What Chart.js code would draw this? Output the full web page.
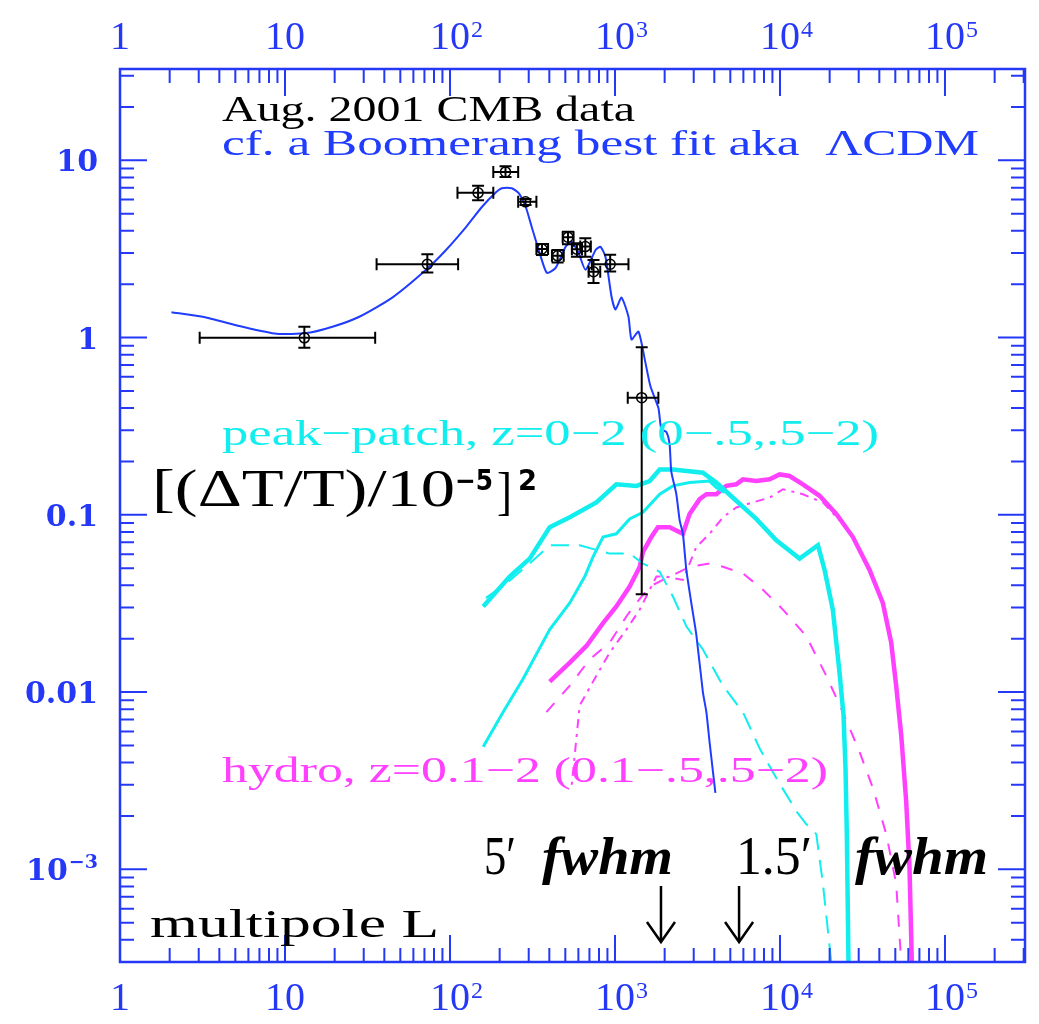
<!DOCTYPE html>
<html><head><meta charset="utf-8">
<script src="https://cdn.jsdelivr.net/npm/chart.js@4/dist/chart.umd.min.js"></script>
<style>html,body{margin:0;padding:0;background:#fff;}</style>
</head><body>
<canvas id="c" width="1039" height="1024"></canvas>
<script>
// ---- CMB data (Aug. 2001) ----
const cmbL     = [13.1, 72.9, 148, 217, 287, 361, 449, 519, 588, 661, 741, 935, 1452];
const cmbLlo   = [3.04, 35.9, 111, 183, 259, 334, 415, 482, 548, 616, 692, 724, 1195];
const cmbLhi   = [35.2, 112, 183, 259, 334, 393, 489, 561, 631, 714, 814, 1207, 1832];
const cmbPow   = [0.996, 2.59, 6.55, 8.6, 5.83, 3.16, 2.89, 3.68, 3.15, 3.26, 2.35, 2.59, 0.458];
const cmbPowLo = [0.875, 2.33, 5.96, 8.05, 5.6, 2.92, 2.65, 3.36, 2.86, 2.86, 2.03, 2.36, 0.0356];
const cmbPowHi = [1.15, 2.95, 7.18, 9.25, 6.05, 3.37, 3.12, 3.95, 3.40, 3.63, 2.74, 2.93, 0.882];

// ---- Boomerang best fit (LCDM) ----
const lcdmL   = [2.05, 3.17, 5.54, 8.88, 13.5, 19.4, 28.2, 44.7, 71.6, 94.6, 125, 156, 190, 206, 237, 261, 288, 313, 345, 386, 437, 502, 546, 602, 663, 763, 817, 876, 953, 1007, 1095, 1207, 1259, 1388, 1528, 1640, 1833, 1910, 2048, 2143, 2193, 2353, 2466, 2580, 2706, 2898, 3112, 3410, 3580, 3741, 3922, 4060];
const lcdmPow = [1.39, 1.31, 1.15, 1.05, 1.06, 1.15, 1.31, 1.68, 2.41, 3.12, 4.2, 5.45, 6.6, 6.96, 6.96, 6.53, 5.45, 4.2, 3.12, 2.32, 2.47, 3.25, 3.46, 3.0, 2.41, 3.12, 3.25, 2.85, 1.70, 1.44, 1.68, 1.31, 0.975, 1.08, 0.724, 0.531, 0.40, 0.304, 0.293, 0.25, 0.176, 0.131, 0.093, 0.078, 0.049, 0.032, 0.021, 0.010, 0.0077, 0.00525, 0.00357, 0.0027];

// ---- peak-patch SZ, z=0-2 (total), z=.5-2 (solid thin), z=0-.5 (dashed) ----
const ppL     = [159, 230, 304, 402, 532, 771, 1019, 1349, 1623, 1866, 2245, 3410, 4113, 5433, 7180, 9500, 13150, 16980, 18640, 20900, 22950, 24270, 24950, 25420, 26010];
const ppPow   = [0.0304, 0.0448, 0.0566, 0.0851, 0.0968, 0.1175, 0.1486, 0.1456, 0.155, 0.180, 0.180, 0.1726, 0.152, 0.120, 0.0948, 0.0718, 0.0566, 0.0673, 0.0488, 0.0292, 0.0129, 0.0074, 0.00374, 0.00158, 0.0003];
const ppHiL   = [159, 210, 277, 402, 532, 656, 736, 846, 1019, 1227, 1478, 1866, 2245, 2832, 3741, 4113, 4617];
const ppHiPow = [0.00492, 0.00771, 0.01186, 0.0225, 0.0318, 0.0448, 0.0579, 0.0749, 0.0781, 0.0948, 0.1033, 0.1306, 0.1456, 0.152, 0.155, 0.1425, 0.1336];
const ppLoL   = [165, 220, 304, 402, 611, 929, 1227, 1478, 1866, 2245, 2706, 3410, 4510, 5960, 7520, 9500, 12560, 14420, 16600, 18200, 20460];
const ppLoPow = [0.034, 0.041, 0.0531, 0.0673, 0.0673, 0.0604, 0.0604, 0.0531, 0.0477, 0.0346, 0.0235, 0.0174, 0.01087, 0.0077, 0.00482, 0.00327, 0.00213, 0.0018, 0.00158, 0.00083, 0.0003];

// ---- hydro SZ, z=0.1-2 (total), 0.1-.5 (dashed), .5-2 (dotted) ----
const hyL     = [402, 532, 671, 846, 1019, 1227, 1413, 1478, 1661, 1820, 2143, 2580, 2832, 3258, 3580, 4113, 4730, 5433, 5960, 7180, 8650, 9950, 11430, 13760, 17380, 21930, 27670, 34910, 42000, 47210, 50600, 54300, 58200, 60950, 62950];
const hyPow   = [0.01146, 0.01466, 0.0182, 0.0245, 0.0304, 0.0394, 0.0509, 0.0618, 0.0749, 0.0851, 0.0851, 0.0781, 0.101, 0.1225, 0.1306, 0.1306, 0.1456, 0.1486, 0.1585, 0.155, 0.1585, 0.169, 0.1656, 0.1486, 0.128, 0.101, 0.0749, 0.0488, 0.0318, 0.019, 0.01087, 0.00571, 0.00242, 0.00103, 0.0003];
const hyLoL   = [384, 532, 703, 929, 1172, 1349, 1623, 1954, 2832, 3741, 4510, 5960, 7880, 10420, 14420, 19070, 24050, 30340, 36540, 44060, 50600, 54300];
const hyLoPow = [0.0077, 0.01087, 0.0153, 0.019, 0.0267, 0.0318, 0.0394, 0.0429, 0.0509, 0.0531, 0.0509, 0.0467, 0.0378, 0.0292, 0.0207, 0.01236, 0.0077, 0.00461, 0.00288, 0.00158, 0.00083, 0.0003];
const hyHiL   = [547, 611, 771, 929, 1172, 1413, 1623, 1782, 2048, 2580, 3112, 3741, 4510, 5433, 6850, 8650, 10420, 13760, 18200, 22950];
const hyHiPow = [0.003, 0.0084, 0.01236, 0.0167, 0.0225, 0.0292, 0.0378, 0.0448, 0.0448, 0.0429, 0.0658, 0.0781, 0.0968, 0.110, 0.1175, 0.125, 0.1394, 0.1306, 0.1175, 0.0929];

// ---- beam markers ----
const beamL = [1900, 5650];

// ---- tick labels ----
const xDecades   = [0, 1, 2, 3, 4, 5];
const xTickBase  = ['1', '10', '10', '10', '10', '10'];
const xTickSup   = ['', '', '2', '3', '4', '5'];
const yDecades   = [1, 0, -1, -2, -3];
const yTickBase  = ['10', '1', '0.1', '0.01', '10'];
const yTickSup   = ['', '', '', '', '\u22123'];

const AXIS = '#2438f6';
const BLUE = '#1f3cff';
const CYAN = '#12eeee';
const MAG  = '#ff40ff';

function pts(xs, ys) { return xs.map((x, i) => ({x: x, y: ys[i]})); }
function line(xs, ys, color, width, dash, tension) {
  return {data: pts(xs, ys), showLine: true, borderColor: color, borderWidth: width,
          borderDash: dash || [], pointRadius: 0, tension: tension || 0, fill: false};
}

function txt(ctx, s, x, y, font, color, w, align) {
  ctx.save();
  ctx.font = font; ctx.fillStyle = color; ctx.textBaseline = 'alphabetic'; ctx.textAlign = 'left';
  const m = ctx.measureText(s).width;
  const sx = w ? w / m : 1;
  let x0 = x;
  if (align === 'right') x0 = x - m * sx;
  if (align === 'center') x0 = x - m * sx / 2;
  ctx.translate(x0, y); ctx.scale(sx, 1); ctx.fillText(s, 0, 0);
  ctx.restore();
  return m * sx;
}

const decor = {
  id: 'decor',
  afterDatasetsDraw(chart) {
    const ctx = chart.ctx, xs = chart.scales.x, ys = chart.scales.y;
    ctx.save();
    ctx.strokeStyle = '#000'; ctx.lineWidth = 2;
    for (let i = 0; i < cmbL.length; i++) {
      const px = xs.getPixelForValue(cmbL[i]), py = ys.getPixelForValue(cmbPow[i]);
      const x0 = xs.getPixelForValue(cmbLlo[i]), x1 = xs.getPixelForValue(cmbLhi[i]);
      const y0 = ys.getPixelForValue(cmbPowLo[i]), y1 = ys.getPixelForValue(cmbPowHi[i]);
      ctx.beginPath();
      ctx.moveTo(x0, py); ctx.lineTo(x1, py);
      ctx.moveTo(x0, py - 6); ctx.lineTo(x0, py + 6);
      ctx.moveTo(x1, py - 6); ctx.lineTo(x1, py + 6);
      ctx.moveTo(px, y0); ctx.lineTo(px, y1);
      ctx.moveTo(px - 6, y0); ctx.lineTo(px + 6, y0);
      ctx.moveTo(px - 6, y1); ctx.lineTo(px + 6, y1);
      ctx.stroke();
    }
    ctx.restore();
  },
  afterDraw(chart) {
    const ctx = chart.ctx, xs = chart.scales.x, ys = chart.scales.y, a = chart.chartArea;
    ctx.save();
    ctx.strokeStyle = AXIS; ctx.lineWidth = 2.5;
    ctx.strokeRect(a.left, a.top, a.right - a.left, a.bottom - a.top);
    ctx.lineWidth = 2;
    ctx.beginPath();
    for (let d = 0; d <= 5; d++) for (let m = 1; m <= 9; m++) {
      const v = m * Math.pow(10, d);
      if (v <= xs.min || v >= xs.max) continue;
      const px = xs.getPixelForValue(v), len = m === 1 ? 27 : 14;
      ctx.moveTo(px, a.bottom); ctx.lineTo(px, a.bottom - len);
      ctx.moveTo(px, a.top); ctx.lineTo(px, a.top + len);
    }
    for (let d = -4; d <= 1; d++) for (let m = 1; m <= 9; m++) {
      const v = m * Math.pow(10, d);
      if (v <= ys.min || v >= ys.max) continue;
      const py = ys.getPixelForValue(v), len = m === 1 ? 27 : 14;
      ctx.moveTo(a.left, py); ctx.lineTo(a.left + len, py);
      ctx.moveTo(a.right, py); ctx.lineTo(a.right - len, py);
    }
    ctx.stroke();
    ctx.restore();

    xDecades.forEach((d, i) => {
      const px = xs.getPixelForValue(Math.pow(10, d));
      [49, 1010].forEach(by => {
        const w = txt(ctx, xTickBase[i], px, by, '40px "Liberation Serif"', AXIS, null, 'center');
        if (xTickSup[i]) txt(ctx, xTickSup[i], px + w / 2 + 1, by - 12, '24px "Liberation Serif"', AXIS);
      });
    });
    yDecades.forEach((d, i) => {
      const py = ys.getPixelForValue(Math.pow(10, d));
      if (yTickSup[i]) {
        const sw = txt(ctx, yTickSup[i], 98, py - 1, 'bold 19px "DejaVu Serif"', AXIS, null, 'right');
        txt(ctx, yTickBase[i], 98 - sw - 1, py + 11, 'bold 30px "DejaVu Serif"', AXIS, null, 'right');
      } else {
        txt(ctx, yTickBase[i], 98, py + 11, 'bold 30px "DejaVu Serif"', AXIS, null, 'right');
      }
    });

    const F = '"Liberation Serif"';
    txt(ctx, 'Aug. 2001 CMB data', 222, 121, '36px ' + F, '#000', 413);
    txt(ctx, 'cf. a Boomerang best fit aka  \u039BCDM', 222, 155, '36px ' + F, BLUE, 757);
    txt(ctx, 'peak\u2212patch, z=0\u22122 (0\u2212.5,.5\u22122)', 222, 445, '36px ' + F, CYAN, 657);
    txt(ctx, 'hydro, z=0.1\u22122 (0.1\u2212.5,.5\u22122)', 222, 782, '36px ' + F, MAG, 606);
    txt(ctx, '[(\u0394T/T)/10', 152, 506, '52px ' + F, '#000', 303);
    txt(ctx, '\u22125', 455, 490, 'bold 28px "DejaVu Sans"', '#000', 38);
    txt(ctx, ']', 497, 509, '52px ' + F, '#000', 15);
    txt(ctx, '2', 518, 490, 'bold 28px "DejaVu Sans"', '#000', 19);
    txt(ctx, '5\u2032', 484, 874, '54px ' + F, '#000', 32);
    txt(ctx, 'fwhm', 542, 874, 'bold italic 52px ' + F, '#000', 131);
    txt(ctx, '1.5\u2032', 736, 874, '54px ' + F, '#000', 76);
    txt(ctx, 'fwhm', 855, 874, 'bold italic 52px ' + F, '#000', 133);
    txt(ctx, 'multipole L', 150, 937, '40px ' + F, '#000', 289);

    ctx.save();
    ctx.strokeStyle = '#000'; ctx.lineWidth = 2.5;
    beamL.forEach(L => {
      const px = xs.getPixelForValue(L);
      ctx.beginPath();
      ctx.moveTo(px, 886); ctx.lineTo(px, 941);
      ctx.moveTo(px - 14, 922); ctx.lineTo(px, 942); ctx.lineTo(px + 14, 922);
      ctx.stroke();
    });
    ctx.restore();
  }
};

new Chart(document.getElementById('c').getContext('2d'), {
  type: 'scatter',
  data: {
    datasets: [
      {data: pts(cmbL, cmbPow), showLine: false, pointRadius: 5, pointBorderWidth: 1.5,
       pointBorderColor: '#000', pointBackgroundColor: 'rgba(255,255,255,0)', pointStyle: 'circle'},
      line(lcdmL, lcdmPow, BLUE, 2, null, 0.2),
      line(ppL, ppPow, CYAN, 4.5),
      line(ppHiL, ppHiPow, CYAN, 3),
      line(ppLoL, ppLoPow, CYAN, 2, [18, 10]),
      line(hyL, hyPow, MAG, 4.5),
      line(hyLoL, hyLoPow, MAG, 2, [12, 12]),
      line(hyHiL, hyHiPow, MAG, 2, [3, 6, 9, 6])
    ]
  },
  options: {
    responsive: false, animation: false, devicePixelRatio: 1,
    layout: {padding: {top: 69, right: 14, left: 0, bottom: 0}},
    plugins: {legend: {display: false}, tooltip: {enabled: false}},
    scales: {
      x: {type: 'logarithmic', min: 1, max: Math.pow(10, 5.485),
          ticks: {display: false}, grid: {display: false}, border: {display: false},
          afterFit(s) { s.height = 62; }},
      y: {type: 'logarithmic', min: Math.pow(10, -3.515), max: Math.pow(10, 1.515),
          ticks: {display: false}, grid: {display: false}, border: {display: false},
          afterFit(s) { s.width = 120; }}
    }
  },
  plugins: [decor]
});
</script>
</body></html>
